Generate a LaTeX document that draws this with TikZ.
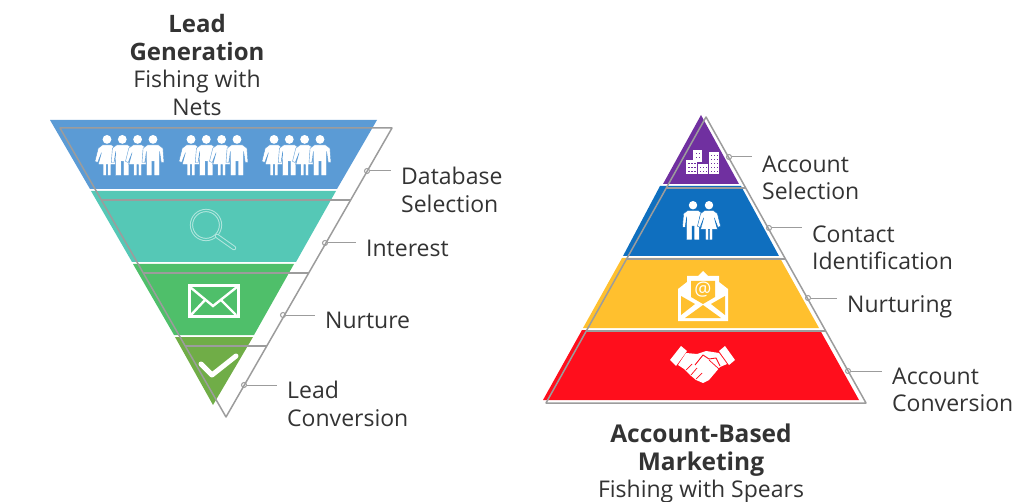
\documentclass[tikz,border=0pt]{standalone}
\usepackage{fontspec}
\setmainfont{Open Sans}
\definecolor{ink}{HTML}{333333}
\definecolor{edge}{HTML}{9C9C9C}
\definecolor{netblue}{HTML}{5B9BD5}
\definecolor{netteal}{HTML}{55C8B6}
\definecolor{netgreen}{HTML}{4FBF6A}
\definecolor{netolive}{HTML}{70AD47}
\definecolor{spearpurple}{HTML}{7030A0}
\definecolor{spearblue}{HTML}{0F6FBF}
\definecolor{spearyellow}{HTML}{FFC02E}
\definecolor{spearred}{HTML}{FF0E1C}
\tikzset{
  x=1pt, y=-1pt,
  txt/.style={text=ink, inner sep=0pt, align=left, anchor=west, font=\fontsize{23}{27.5}\selectfont},
  head/.style={text=ink, inner sep=0pt, align=center, font=\fontsize{23}{27.5}\selectfont},
  dot/.style={circle, draw=edge, line width=1pt, inner sep=0pt, minimum size=5pt},
  outline/.style={draw=edge, line width=1.5pt},
  leader/.style={draw=edge, line width=1pt, shorten >=10pt},
  man/.pic={
    \fill[white] (0,4) circle (4);
    \fill[white, draw=#1, line width=.4pt] (-5,9) -- (5,9) -- (9,12) -- (10,25) -- (7.5,25) -- (6,15) -- (6,37) -- (1,37)
      -- (1,24) -- (-1,24) -- (-1,37) -- (-6,37) -- (-6,15) -- (-7.5,25) -- (-10,25) -- (-9,12) -- cycle;
  },
  woman/.pic={
    \fill[white] (0,4) circle (4);
    \fill[white, draw=#1, line width=.4pt] (-4,9) -- (4,9) -- (8,12) -- (11,24) -- (8.5,25) -- (5,16) -- (8,27) -- (3.5,27)
      -- (3.5,37) -- (.7,37) -- (.7,27) -- (-.7,27) -- (-.7,37) -- (-3.5,37) -- (-3.5,27) -- (-8,27) -- (-5,16)
      -- (-8.5,25) -- (-11,24) -- (-8,12) -- cycle;
  },
}
\begin{document}
\begin{tikzpicture}
  \useasboundingbox (0,0) rectangle (1024,502);
  % Funnel
  \fill[netblue] (50,120) -- (377,120) -- (337,189) -- (90,189) -- cycle;
  \fill[netteal] (91,191) -- (336,191) -- (296,262) -- (132,262) -- cycle;
  \fill[netgreen] (133,264) -- (294,264) -- (254,335) -- (174,335) -- cycle;
  \fill[netolive] (175,337) -- (253,337) -- (213,405) -- cycle;
  % Funnel icons
  \foreach \dx in {0,84,167} {
    \pic[scale=1.1] at (107+\dx,135) {woman=netblue};
    \pic[scale=1.1] at (122.3+\dx,135) {man=netblue};
    \pic[scale=1.1] at (137.6+\dx,135) {woman=netblue};
    \pic[scale=1.1] at (153+\dx,135) {man=netblue};
  }
  \draw[draw=white!55!netteal, double=netteal, double distance=1.2pt, line width=1pt] (206,225) circle (14.5);
  \draw[draw=white!55!netteal, double=netteal, double distance=2.5pt, line width=1pt, line cap=round] (217,236) -- (234,248);
  \draw[white, line width=3pt] (189,286) rectangle (238,316);
  \draw[white, line width=2.4pt] (190,287) -- (213,306) -- (237,287);
  \draw[white, line width=2.4pt] (191,315) -- (205,300) (236,315) -- (221,300);
  \draw[white, line width=5pt, line cap=round, line join=round] (201,364) -- (212,375) -- (236,356);
  % Funnel outline
  \coordinate (fa) at (60,128);
  \coordinate (fb) at (392,128);
  \coordinate (fc) at (226,417);
  \draw[outline, line join=round] (fa) -- (fb) -- (fc) -- cycle;
  \draw[outline] (102,200) -- (351,200);
  \draw[outline] (144,273) -- (309,273);
  \draw[outline] (185,346) -- (267,346);
  % Pyramid
  \fill[spearpurple] (701,115) -- (739,184) -- (663,184) -- cycle;
  \fill[spearblue] (660,186) -- (741,186) -- (779,256) -- (623,256) -- cycle;
  \fill[spearyellow] (622,258) -- (780,258) -- (819,328) -- (583,328) -- cycle;
  \fill[spearred] (582,330) -- (820,330) -- (859,400) -- (543,400) -- cycle;
  % Pyramid icons
  \fill[white] (686,160) rectangle (697,174);
  \fill[white] (693,150) rectangle (702,162);
  \fill[white] (698,164) rectangle (708,174);
  \fill[white] (709,152) rectangle (719,174);
  \foreach \wx in {688,691,694} \foreach \wy in {163,167,171} \fill[spearpurple] (\wx,\wy) rectangle +(1.5,1.5);
  \foreach \wx in {695.5,698.5} \foreach \wy in {153,157} \fill[spearpurple] (\wx,\wy) rectangle +(1.5,1.5);
  \foreach \wx in {700,703,705.5} \foreach \wy in {167,171} \fill[spearpurple] (\wx,\wy) rectangle +(1.2,1.5);
  \foreach \wx in {711,714,716.5} \foreach \wy in {155,159,163,167,171} \fill[spearpurple] (\wx,\wy) rectangle +(1.2,1.5);
  \pic[scale=1.05] at (693,201) {man=spearblue};
  \pic[scale=1.05] at (709,201) {woman=spearblue};
  \fill[white] (678,289) -- (687,282) -- (687,276) -- (698,276) -- (703,271) -- (708,276) -- (719,276) -- (719,282) -- (728,289) -- (728,321) -- (678,321) -- cycle;
  \fill[spearyellow] (691,281) -- (715,281) -- (715,297) -- (703,304) -- (691,297) -- cycle;
  \fill[spearyellow] (681,296) -- (695,304) -- (681,315) -- cycle;
  \fill[spearyellow] (725,296) -- (711,304) -- (725,315) -- cycle;
  \fill[spearyellow] (685,318) -- (703,305) -- (721,318) -- cycle;
  \node (at) [text=white, inner sep=0pt, font=\fontsize{19}{19}\selectfont] at (703,290) {@};
  \fill[white] (670,360) -- (681,346) -- (687,351) -- (676,366) -- cycle;
  \fill[white] (735,360) -- (725,346) -- (719,351) -- (729,365) -- cycle;
  \fill[white] (686,353) -- (697,354) -- (706,351) -- (719,353) -- (727,364) -- (720,367) -- (709,380) -- (703,383)
    -- (696,380) -- (690,375) -- (684,369) -- (678,365) -- cycle;
  \draw[spearred, line width=.9pt, line join=round] (695,365) -- (703,355) -- (709,359) -- (716,358) -- (720,366);
  \draw[spearred, line width=.7pt] (692,364) -- (686,370) (697,368) -- (691,375) (702,373) -- (696,379) (709,360) -- (719,369);
  % Pyramid outline
  \coordinate (pa) at (706,117);
  \coordinate (pb) at (866,403);
  \coordinate (pc) at (546,403);
  \draw[outline, line join=round] (pa) -- (pb) -- (pc) -- cycle;
  \draw[outline] (666,188) -- (746,188);
  \draw[outline] (627,259) -- (785,259);
  \draw[outline] (586,331) -- (826,331);
  % Headers
  \node (lg) [head] at (197,65) {\fontsize{24}{27.5}\selectfont\textbf{Lead}\\\fontsize{24}{27.5}\selectfont\textbf{Generation}\\Fishing with\\Nets};
  \node (abm) [head] at (701,463.5) {\fontsize{24.5}{27.5}\selectfont\textbf{Account-Based}\\\fontsize{24.5}{27.5}\selectfont\textbf{Marketing}\\Fishing with Spears};
  % Labels
  \node (db) [txt] at (401,190) {Database\\Selection};
  \node (in) [txt] at (366,248) {Interest};
  \node (nu) [txt] at (325,320) {Nurture};
  \node (lc) [txt] at (287,404) {Lead\\Conversion};
  \node (as) [txt] at (762,178) {Account\\Selection};
  \node (ci) [txt] at (812,248) {Contact\\Identification};
  \node (nr) [txt] at (847,307) {Nurturing};
  \node (ac) [txt] at (892,390) {Account\\Conversion};
  % Dots
  \node (d1) [dot] at (367,171) {};
  \node (d2) [dot] at (325,243) {};
  \node (d3) [dot] at (283,315) {};
  \node (d4) [dot] at (244,385) {};
  \node (d5) [dot] at (729,157) {};
  \node (d6) [dot] at (769,228) {};
  \node (d7) [dot] at (808,298) {};
  \node (d8) [dot] at (848,371) {};
  % Leaders
  \draw[leader] (d1.east) -- (d1 -| db.west);
  \draw[leader] (d2.east) -- (d2 -| in.west);
  \draw[leader] (d3.east) -- (d3 -| nu.west);
  \draw[leader] (d4.east) -- (d4 -| lc.west);
  \draw[leader] (d5.east) -- (d5 -| as.west);
  \draw[leader] (d6.east) -- (d6 -| ci.west);
  \draw[leader] (d7.east) -- (d7 -| nr.west);
  \draw[leader] (d8.east) -- (d8 -| ac.west);
\end{tikzpicture}
\end{document}
